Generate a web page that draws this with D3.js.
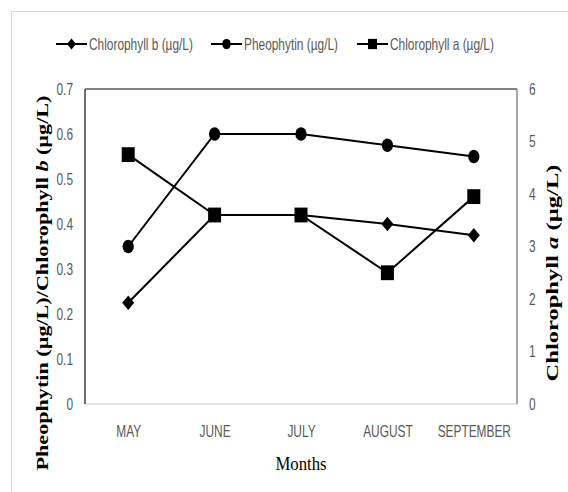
<!DOCTYPE html>
<html>
<head>
<meta charset="utf-8">
<script src="https://cdn.jsdelivr.net/npm/d3@7"></script>
<style>
  body { margin: 0; background: #fff; }
  svg { display: block; }
  .tick text { font-family: "Liberation Sans", sans-serif; font-size: 16.5px; fill: #595959; }
</style>
</head>
<body>
<div id="chart"></div>
<script>
// data
const months = ["MAY", "JUNE", "JULY", "AUGUST", "SEPTEMBER"];
const chlB = [0.225, 0.42, 0.42, 0.40, 0.375];
const pheo = [0.35, 0.60, 0.60, 0.575, 0.55];
const chlA = [4.75, 3.6, 3.6, 2.5, 3.95];
const leftTicks = [0, 0.1, 0.2, 0.3, 0.4, 0.5, 0.6, 0.7];
const rightTicks = [0, 1, 2, 3, 4, 5, 6];

const width = 568, height = 492;
const plot = { left: 85, top: 89, right: 517, bottom: 404 };
const narrow = 0.72;

const svg = d3.select("#chart").append("svg")
  .attr("width", width)
  .attr("height", height);

// the original uses a narrow font, so squeeze text horizontally
function squeeze(sel, f) {
  sel.each(function() {
    const len = this.getComputedTextLength();
    d3.select(this).attr("textLength", len * f).attr("lengthAdjust", "spacingAndGlyphs");
  });
}

// outer frame
svg.append("rect")
  .attr("x", 11.5).attr("y", 11.5)
  .attr("width", width).attr("height", height)
  .attr("fill", "none").attr("stroke", "#d9d9d9");

const x = d3.scalePoint().domain(months).range([plot.left, plot.right]).padding(0.5);
const yL = d3.scaleLinear().domain([0, 0.7]).range([plot.bottom, plot.top]);
const yR = d3.scaleLinear().domain([0, 6]).range([plot.bottom, plot.top]);

// axes
const gx = svg.append("g")
  .attr("transform", "translate(0," + plot.bottom + ")")
  .call(d3.axisBottom(x).tickSize(0).tickPadding(21));
gx.select(".domain").remove();
squeeze(gx.selectAll("text"), narrow);

const gl = svg.append("g")
  .attr("transform", "translate(" + plot.left + ",0)")
  .call(d3.axisLeft(yL).tickValues(leftTicks).tickFormat(d => d === 0 ? "0" : d3.format(".1f")(d)).tickSize(0).tickPadding(12));
gl.select(".domain").remove();
squeeze(gl.selectAll("text"), narrow);

const gr = svg.append("g")
  .attr("transform", "translate(" + plot.right + ",0)")
  .call(d3.axisRight(yR).tickValues(rightTicks).tickFormat(d3.format("d")).tickSize(0).tickPadding(12));
gr.select(".domain").remove();
squeeze(gr.selectAll("text"), narrow);

// plot frame lines
svg.append("line").attr("x1", plot.left).attr("x2", plot.right).attr("y1", plot.bottom).attr("y2", plot.bottom)
  .attr("stroke", "#d9d9d9").attr("stroke-width", 1.5);
svg.append("line").attr("x1", plot.left).attr("x2", plot.right).attr("y1", plot.top).attr("y2", plot.top)
  .attr("stroke", "#595959").attr("stroke-width", 1.5);
svg.append("line").attr("x1", plot.left).attr("x2", plot.left).attr("y1", plot.top).attr("y2", plot.bottom)
  .attr("stroke", "#404040").attr("stroke-width", 1.5);
svg.append("line").attr("x1", plot.right).attr("x2", plot.right).attr("y1", plot.top).attr("y2", plot.bottom)
  .attr("stroke", "#8c8c8c").attr("stroke-width", 1.5);

// markers
function drawMarker(g, type, cx, cy, s) {
  if (type === "diamond") {
    g.append("path")
      .attr("d", `M${cx},${cy - s * 0.6}L${cx + s * 0.5},${cy}L${cx},${cy + s * 0.6}L${cx - s * 0.5},${cy}Z`)
      .attr("fill", "#000");
  } else if (type === "circle") {
    g.append("ellipse").attr("cx", cx).attr("cy", cy)
      .attr("rx", s * 0.47).attr("ry", s * 0.57).attr("fill", "#000");
  } else {
    g.append("rect").attr("x", cx - s * 0.5).attr("y", cy - s * 0.57)
      .attr("width", s).attr("height", s * 1.14).attr("fill", "#000");
  }
}

const series = [
  { name: "Chlorophyll b (µg/L)", values: chlB, y: yL, marker: "diamond", size: 12 },
  { name: "Pheophytin (µg/L)", values: pheo, y: yL, marker: "circle", size: 12 },
  { name: "Chlorophyll a (µg/L)", values: chlA, y: yR, marker: "square", size: 13 }
];

series.forEach(s => {
  const g = svg.append("g");
  const line = d3.line().x((d, i) => x(months[i])).y(d => s.y(d));
  g.append("path").datum(s.values)
    .attr("d", line)
    .attr("fill", "none").attr("stroke", "#000").attr("stroke-width", 2);
  s.values.forEach((v, i) => drawMarker(g, s.marker, x(months[i]), s.y(v), s.size));
});

// legend
const legendX = [56, 211, 357];
series.forEach((s, i) => {
  const g = svg.append("g");
  const lx = legendX[i], ly = 44;
  g.append("line").attr("x1", lx).attr("x2", lx + 31).attr("y1", ly).attr("y2", ly)
    .attr("stroke", "#000").attr("stroke-width", 2);
  drawMarker(g, s.marker, lx + 15.5, ly, 9);
  const t = g.append("text").attr("x", lx + 33).attr("y", ly).attr("dy", "0.35em")
    .attr("font-family", "'Liberation Sans', sans-serif")
    .attr("font-size", 16.5).attr("fill", "#595959")
    .text(s.name);
  squeeze(t, narrow);
});

// axis titles
const mt = svg.append("text")
  .attr("x", (plot.left + plot.right) / 2).attr("y", 463)
  .attr("text-anchor", "middle").attr("dy", "0.35em")
  .attr("font-family", "'Liberation Serif', serif").attr("font-size", 19).attr("fill", "#000")
  .text("Months");
squeeze(mt, 0.88);

const lt = svg.append("text")
  .attr("transform", "translate(42,283) rotate(-90)")
  .attr("text-anchor", "middle").attr("dy", "0.35em")
  .attr("font-family", "'Liberation Serif', serif").attr("font-size", 17).attr("font-weight", "bold").attr("fill", "#000")
  .attr("textLength", 375).attr("lengthAdjust", "spacingAndGlyphs");
lt.append("tspan").text("Pheophytin (µg/L)/Chlorophyll ");
lt.append("tspan").attr("font-style", "italic").text("b");
lt.append("tspan").text(" (µg/L)");

const rt = svg.append("text")
  .attr("transform", "translate(552,273) rotate(-90)")
  .attr("text-anchor", "middle").attr("dy", "0.35em")
  .attr("font-family", "'Liberation Serif', serif").attr("font-size", 17).attr("font-weight", "bold").attr("fill", "#000")
  .attr("textLength", 217).attr("lengthAdjust", "spacingAndGlyphs");
rt.append("tspan").text("Chlorophyll ");
rt.append("tspan").attr("font-style", "italic").text("a");
rt.append("tspan").text(" (µg/L)");
</script>
</body>
</html>
